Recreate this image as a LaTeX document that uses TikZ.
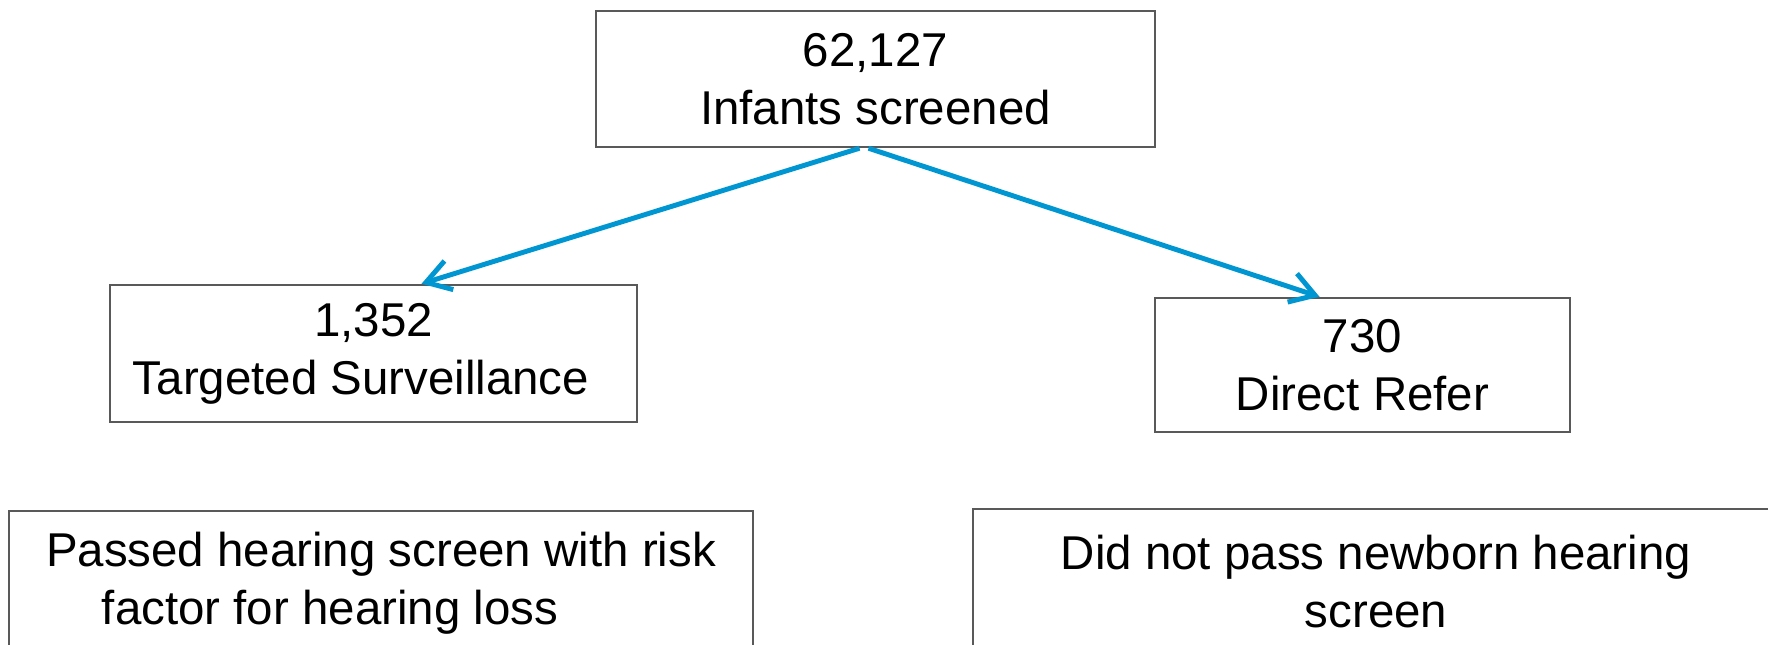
\documentclass[tikz,border=0pt]{standalone}
\usepackage{fontspec}
\setmainfont{Liberation Sans}
\usetikzlibrary{arrows.meta}
\definecolor{flowblue}{RGB}{0,150,210}
\definecolor{edge}{RGB}{89,89,89}
\tikzset{
  >={Straight Barb[length=2.4mm,width=3mm]},
  cbox/.style={draw=edge,line width=0.7pt,fill=white,inner sep=0pt,align=center,
    minimum width=#1,font=\fontsize{13.5}{16.5}\selectfont},
  cbox/.default=5cm,
  link/.style={->,line width=1.4pt,draw=flowblue},
}
\begin{document}
\begin{tikzpicture}
  \useasboundingbox (0,0) rectangle (17.68,-6.44);
  \clip (0,0) rectangle (17.68,-6.44);
  % counts
  \node[cbox=5.59cm,minimum height=1.36cm] (screened) at (8.755,-0.79) {62,127\\Infants screened};
  \node[cbox=5.27cm,minimum height=1.37cm] (targeted) at (3.735,-3.535) {1,352\\Targeted Surveillance\hspace*{0.25cm}};
  \node[cbox=4.15cm,minimum height=1.34cm] (refer) at (13.625,-3.65) {730\\Direct Refer};
  % definitions, cut off at the bottom
  \node[cbox=7.44cm,minimum height=1.45cm] (passed) at (3.81,-5.835)
    {Passed hearing screen with risk\\factor for hearing loss\hspace*{1.02cm}};
  \node[cbox=8.06cm,minimum height=1.45cm] (notpass) at (13.76,-5.815)
    {Did not pass newborn hearing\\screen};
  % arrows
  \draw[link] ([xshift=-1.6mm]screened.south) -- ([xshift=4.8mm]targeted.north);
  \draw[link] ([xshift=-0.7mm]screened.south) -- ([xshift=-4.3mm]refer.north);
\end{tikzpicture}
\end{document}
